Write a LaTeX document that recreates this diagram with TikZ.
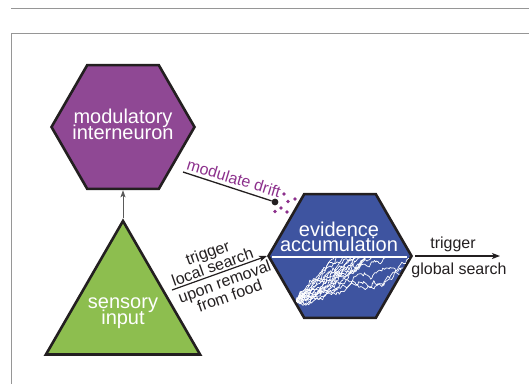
\documentclass[tikz,border=0pt]{standalone}
\usepackage{fontspec}
\setmainfont{Liberation Sans}
\usetikzlibrary{shapes.geometric,arrows.meta}
\definecolor{purp}{RGB}{143,72,148}
\definecolor{blu}{RGB}{62,84,160}
\definecolor{grn}{RGB}{141,190,79}
\definecolor{ink}{RGB}{35,31,32}
\definecolor{ptext}{RGB}{140,48,140}
\definecolor{framegray}{RGB}{150,150,150}
\newcommand\hexfont{\fontsize{20}{15.6}\selectfont\lineskiplimit=-50pt\relax}
\newcommand\lblfont{\fontsize{16}{15}\selectfont\lineskiplimit=-50pt\relax}
\begin{document}
\begin{tikzpicture}[x=1pt,y=-1pt,
  hexa/.style={regular polygon, regular polygon sides=6, minimum size=143pt, draw=ink, line width=2.6pt, inner sep=0pt},
  tri/.style={regular polygon, regular polygon sides=3, minimum size=178pt, draw=ink, line width=2.6pt, fill=grn, inner sep=0pt},
  biglabel/.style={text=white, align=center, font=\hexfont, inner sep=0pt},
  smalllabel/.style={align=center, font=\lblfont, inner sep=0pt, text=ink},
  arr/.style={-{Stealth[length=8pt,width=6pt,inset=2pt]}, line width=1.2pt, draw=ink},
  thinarr/.style={-{Stealth[length=7pt,width=5pt,inset=1.5pt]}, line width=0.9pt, draw={rgb,255:red,90;green,90;blue,90}},
  framerule/.style={draw=framegray, line width=0.9pt},
  bdot/.style={circle, fill=ink, inner sep=0pt, minimum size=6.8pt},
  pdot/.style={circle, fill=ptext, inner sep=0pt, minimum size=3.8pt},
  walk/.style={draw=white, line width=0.7pt, line join=round}
]
\useasboundingbox (0,0) rectangle (529,384);
% frame
\draw[framerule] (11,8) -- (529,8);
\draw[framerule] (529,33) -- (11,33) -- (11,384);

% nodes
\node[hexa, fill=purp] (mi) at (123,127) {};
\node[biglabel] (mitext) at (123,124.5) {modulatory\\interneuron};

\node[tri] (si) at (123,310) {};
\node[biglabel] (sitext) at (123,313) {sensory\\input};

\node[hexa, fill=blu] (ea) at (340,256) {};
\node[biglabel] (eatext) at (339,237) {evidence\\accumulation};

% random walks
\begin{scope}
\clip (271,258.2) -- (305,316) -- (375,316) -- (409,258.2) -- cycle;
\pgfmathsetseed{31}
\foreach \d in {0.6,0.64,0.68,0.72,0.76,0.8,0.85,0.9,0.95,1.0,1.06,1.12,1.2,1.3,1.42,1.56}{
  \xdef\wx{296}\xdef\wy{302}\xdef\wpath{}
  \foreach \i in {1,...,110}{
    \ifdim\wy pt>258pt
      \pgfmathsetmacro\nx{\wx+1.4+1.1*rand}
      \pgfmathsetmacro\ny{max(257.5,\wy-\d+3.0*rand)}
      \xdef\wx{\nx}\xdef\wy{\ny}
      \xdef\wpath{\wpath -- (\wx,\wy)}
    \fi
  }
  \draw[walk] (296,302) \wpath;
}
\end{scope}
\draw[white, line width=1.2pt] (272,257) -- (407,257);

% sensory -> modulatory
\draw[thinarr] (si.north) -- (mi.south);

% sensory -> evidence
\coordinate (ls) at (172,290);
\draw[arr] (ls) -- (ea.west);
\node[smalllabel, rotate=19.5] (l1) at (210,259.5) {trigger\\local search};
\node[smalllabel, rotate=19.5] (l2) at (227,288.5) {upon removal\\from food};

% evidence -> global search
\coordinate (ge) at (500,256);
\draw[arr, shorten <=2pt] (ea.east) -- (ge);
\node[smalllabel] (t1) at (453,244) {trigger};
\node[smalllabel] (t2) at (459,270) {global search};

% modulate drift
\coordinate (ms) at (183,172);
\node[bdot] (md) at (275,202) {};
\draw[draw=ink, line width=1.3pt] (ms) -- (md);
\node[smalllabel, text=ptext, rotate=-17] (mtext) at (234,178) {modulate drift};
\node[pdot] (p1) at (284,194) {};
\node[pdot] (p2) at (295,199) {};
\node[pdot] (p3) at (288,201.5) {};
\node[pdot] (p4) at (281,208) {};
\node[pdot] (p5) at (275,211.5) {};
\node[pdot] (p6) at (287,212) {};
\end{tikzpicture}
\end{document}
